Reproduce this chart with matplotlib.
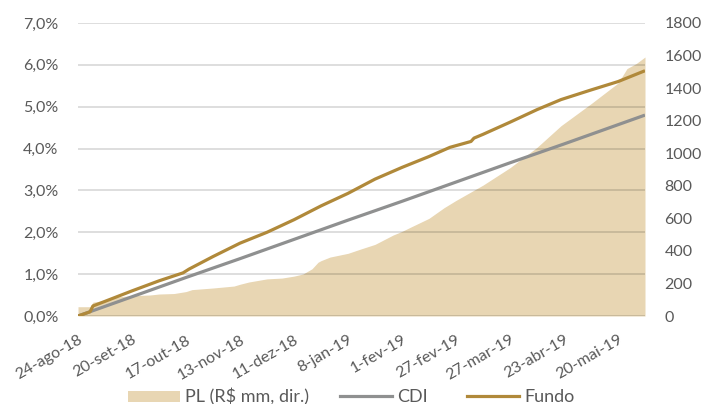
import pandas as pd
import matplotlib
matplotlib.use("Agg")
import matplotlib.pyplot as plt
import matplotlib.transforms as mtransforms
from matplotlib.patches import Patch
from matplotlib.lines import Line2D
from matplotlib.ticker import FuncFormatter

plt.rcParams["font.family"] = ["Lato", "DejaVu Sans"]

# business-day calendar of the chart (category axis)
holidays = ["2018-09-07", "2018-10-12", "2018-11-02", "2018-11-15", "2018-11-20",
            "2018-12-25", "2019-01-01", "2019-03-04", "2019-03-05", "2019-04-19",
            "2019-05-01"]
days = pd.bdate_range("2018-08-24", "2019-05-31", freq="C", holidays=holidays)
meses = ["jan", "fev", "mar", "abr", "mai", "jun", "jul", "ago", "set", "out", "nov", "dez"]

# PL (R$ mm), right axis
pl_dates = ["2018-08-24", "2018-08-30", "2018-08-31", "2018-09-06", "2018-09-13", "2018-09-20",
            "2018-09-28", "2018-10-03", "2018-10-10", "2018-10-17", "2018-10-19", "2018-10-30",
            "2018-11-09", "2018-11-13", "2018-11-19", "2018-11-28", "2018-12-05", "2018-12-11",
            "2018-12-14", "2018-12-19", "2018-12-21", "2018-12-24", "2018-12-28", "2019-01-08",
            "2019-01-14", "2019-01-21", "2019-01-29", "2019-02-01", "2019-02-06", "2019-02-14",
            "2019-02-21", "2019-02-27", "2019-03-14", "2019-03-27", "2019-04-09", "2019-04-22",
            "2019-05-07", "2019-05-20", "2019-05-23", "2019-05-28", "2019-05-31"]
pl_vals = [57, 57, 85, 95, 117, 125,
           129, 135, 138, 150, 162, 172,
           184, 195, 209, 228, 233, 245,
           258, 290, 330, 340, 362, 385,
           410, 440, 497, 520, 547, 600,
           665, 710, 804, 911, 1036, 1169,
           1304, 1431, 1520, 1550, 1591]

# CDI accumulated (%)
cdi_dates = ["2018-08-24", "2018-09-20", "2018-10-17", "2018-11-13", "2018-12-11", "2019-01-08",
             "2019-02-01", "2019-02-27", "2019-03-27", "2019-04-23", "2019-05-20", "2019-05-31"]
cdi_vals = [0.00, 0.46, 0.92, 1.37, 1.83, 2.29, 2.74, 3.20, 3.66, 4.11, 4.57, 4.80]

# Fundo accumulated (%)
fundo_dates = ["2018-08-24", "2018-08-30", "2018-08-31", "2018-09-06", "2018-09-20", "2018-10-03",
               "2018-10-16", "2018-10-18", "2018-10-30", "2018-11-13", "2018-11-28", "2018-12-11",
               "2018-12-24", "2019-01-08", "2019-01-21", "2019-02-01", "2019-02-14", "2019-02-25",
               "2019-03-08", "2019-03-11", "2019-03-14", "2019-03-27", "2019-04-09", "2019-04-22",
               "2019-05-07", "2019-05-20", "2019-05-31"]
fundo_vals = [0.00, 0.10, 0.24, 0.35, 0.60, 0.84,
              1.03, 1.12, 1.42, 1.74, 2.00, 2.30,
              2.63, 2.93, 3.27, 3.55, 3.81, 4.03,
              4.17, 4.25, 4.34, 4.63, 4.93, 5.17,
              5.40, 5.60, 5.86]


def pos(dates):
    return days.get_indexer(pd.to_datetime(dates))


c_pl = "#E8D6B3"
c_cdi = "#8F9090"
c_fundo = "#B0893A"
c_txt = "#595959"

fig = plt.figure(figsize=(7.03, 4.04), dpi=100)
ax = fig.add_axes([78 / 703, 1 - 316 / 404, 567 / 703, 293 / 404])
ax2 = ax.twinx()
ax.set_zorder(ax2.get_zorder() + 1)
ax.patch.set_visible(False)

ax2.fill_between(pos(pl_dates), pl_vals, color=c_pl, lw=0)
ax.plot(pos(cdi_dates), cdi_vals, color=c_cdi, lw=2.3, solid_capstyle="butt")
ax.plot(pos(fundo_dates), fundo_vals, color=c_fundo, lw=2.3, solid_capstyle="butt")

ax.set_xlim(0, len(days) - 1)
ax.set_ylim(0, 7)
ax2.set_ylim(0, 1800)
ax.set_yticks(range(0, 8))
ax2.set_yticks(range(0, 1801, 200))
ax.yaxis.set_major_formatter(FuncFormatter(lambda v, p: f"{v:.1f}%".replace(".", ",")))

ticks = list(range(0, len(days), 18))
ax.set_xticks(ticks)
ax.set_xticklabels([f"{days[i].day}-{meses[days[i].month - 1]}-{days[i]:%y}" for i in ticks],
                   rotation=30, ha="right", rotation_mode="anchor")
shift = mtransforms.ScaledTranslation(4 / 100, 0, fig.dpi_scale_trans)
for lbl in ax.get_xticklabels():
    lbl.set_transform(lbl.get_transform() + shift)

ax.grid(axis="y", color="#000000", alpha=0.14, lw=1.3)
for a in (ax, ax2):
    for s in a.spines.values():
        s.set_visible(False)
    a.tick_params(length=0, labelsize=11.5, colors=c_txt)
ax.tick_params(axis="y", pad=14)
ax.tick_params(axis="x", pad=12)
ax2.tick_params(axis="y", pad=14)

# legend entries placed one by one (as in the original, spacing is uneven)
handles = [Patch(facecolor=c_pl, edgecolor="none", label="PL (R$ mm, dir.)"),
           Line2D([], [], color=c_cdi, lw=2.3, label="CDI"),
           Line2D([], [], color=c_fundo, lw=2.3, label="Fundo")]
starts = [128, 340, 467]
for h, x0 in zip(handles, starts):
    leg = fig.legend(handles=[h], loc="center left", bbox_to_anchor=(x0 / 703, 1 - 397 / 404),
                     frameon=False, fontsize=13, handlelength=2.9, handleheight=0.55,
                     handletextpad=0.25, borderpad=0, borderaxespad=0)
    for t in leg.get_texts():
        t.set_color(c_txt)

fig.savefig("out.png", dpi=100)
